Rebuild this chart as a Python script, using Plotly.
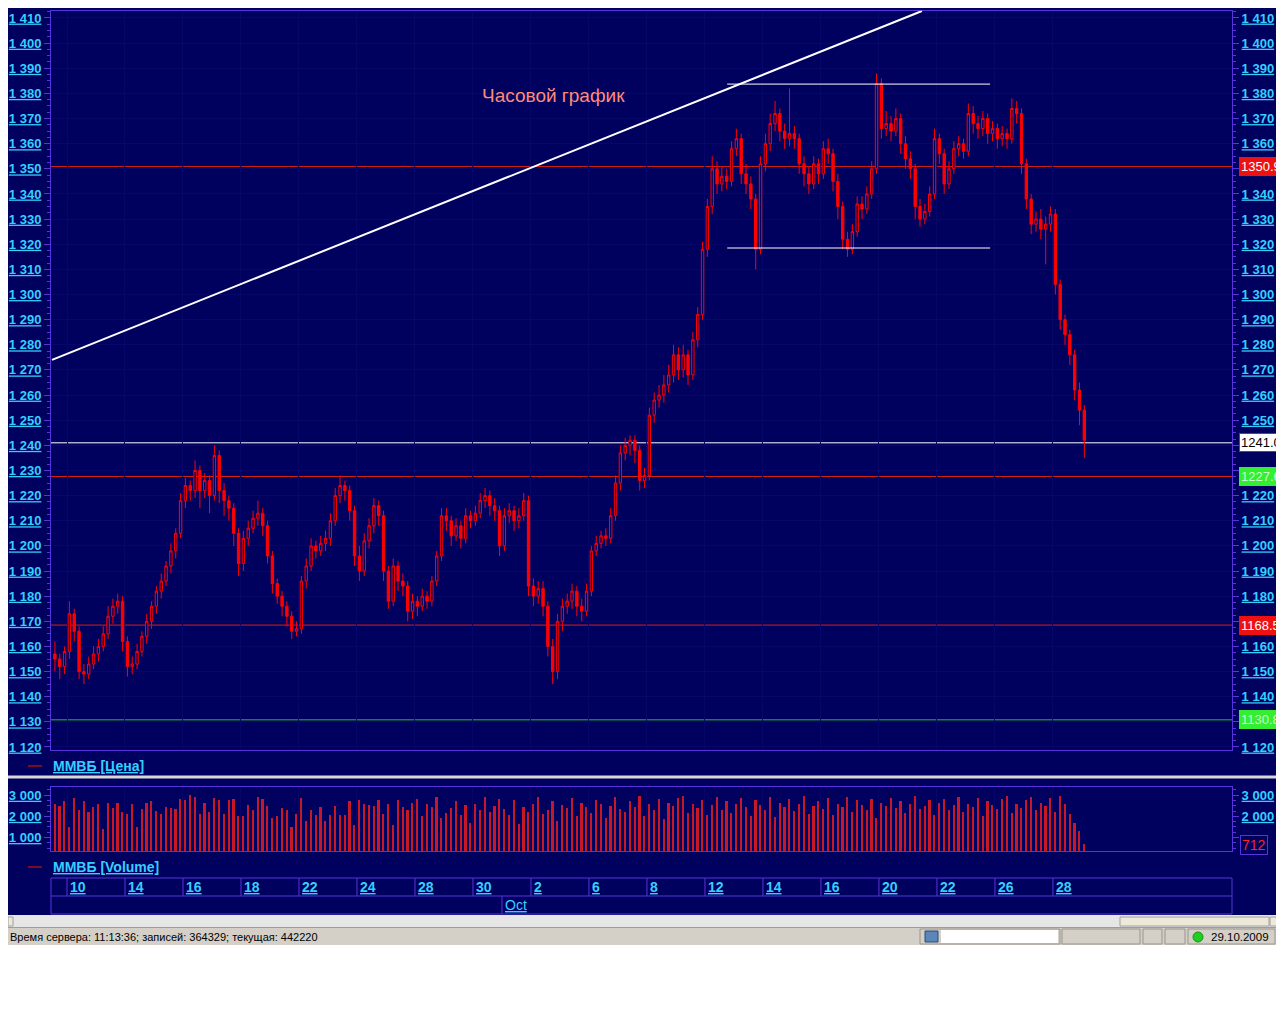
import plotly.graph_objects as go

# ---------------- data (hourly-ish candles, 6 per trading day) ----------------
OPEN = [
    1157, 1155, 1152, 1158, 1173, 1166, 1150, 1149, 1153, 1157, 1160, 1165, 1172, 1176,
    1178, 1162, 1152, 1153, 1158, 1164, 1170, 1176, 1182, 1186, 1192, 1198, 1205, 1218,
    1224, 1222, 1230, 1222, 1226, 1220, 1236, 1222, 1218, 1215, 1205, 1193, 1203, 1207,
    1211, 1213, 1208, 1196, 1185, 1180, 1176, 1172, 1166, 1167, 1186, 1192, 1200, 1198,
    1201, 1203, 1210, 1220, 1224, 1222, 1214, 1196, 1190, 1202, 1208, 1216, 1212, 1190,
    1178, 1192, 1186, 1184, 1174, 1178, 1176, 1180, 1178, 1186, 1196, 1212, 1210, 1204,
    1208, 1203, 1212, 1210, 1213, 1218, 1220, 1216, 1214, 1200, 1212, 1214, 1210, 1212,
    1218, 1184, 1180, 1183, 1176, 1160, 1150, 1170, 1176, 1178, 1182, 1176, 1174, 1182,
    1198, 1201, 1204, 1203, 1212, 1225, 1237, 1240, 1242, 1238, 1226, 1228, 1252, 1258,
    1260, 1264, 1268, 1276, 1270, 1276, 1268, 1282, 1292, 1318, 1335, 1350, 1344, 1347,
    1345, 1358, 1362, 1348, 1344, 1338, 1318, 1352, 1360, 1368, 1372, 1365, 1362, 1364,
    1362, 1352, 1348, 1344, 1352, 1348, 1358, 1356, 1345, 1335, 1322, 1318, 1325, 1336,
    1334, 1340, 1350, 1384, 1366, 1368, 1365, 1370, 1360, 1354, 1350, 1335, 1330, 1333,
    1340, 1362, 1356, 1344, 1350, 1358, 1360, 1357, 1372, 1368, 1366, 1370, 1364, 1366,
    1362, 1364, 1362, 1374, 1372, 1352, 1338, 1328, 1330, 1326, 1328, 1332, 1304, 1290,
    1284, 1276, 1262, 1254,
]
HIGH = [
    1162, 1157, 1160, 1178, 1175, 1168, 1153, 1156, 1160, 1163, 1168, 1176, 1179, 1181,
    1180, 1164, 1156, 1161, 1166, 1173, 1178, 1184, 1189, 1194, 1201, 1207, 1221, 1227,
    1226, 1234, 1232, 1229, 1228, 1240, 1238, 1225, 1220, 1217, 1207, 1206, 1210, 1214,
    1218, 1215, 1210, 1198, 1187, 1182, 1178, 1174, 1170, 1188, 1195, 1203, 1202, 1204,
    1206, 1213, 1223, 1228, 1226, 1224, 1216, 1200, 1205, 1211, 1219, 1218, 1214, 1192,
    1195, 1194, 1189, 1186, 1181, 1180, 1183, 1182, 1188, 1198, 1215, 1215, 1212, 1211,
    1210, 1215, 1214, 1216, 1221, 1223, 1222, 1219, 1216, 1215, 1217, 1216, 1215, 1221,
    1220, 1187, 1186, 1186, 1178, 1163, 1173, 1179, 1181, 1185, 1184, 1179, 1185, 1200,
    1204, 1206, 1207, 1215, 1228, 1240, 1243, 1244, 1244, 1240, 1231, 1255, 1261, 1264,
    1268, 1272, 1280, 1279, 1280, 1278, 1285, 1295, 1321, 1338, 1355, 1353, 1351, 1350,
    1361, 1366, 1364, 1352, 1347, 1340, 1355, 1364, 1372, 1377, 1374, 1368, 1382, 1367,
    1364, 1355, 1351, 1355, 1354, 1361, 1362, 1358, 1348, 1337, 1325, 1328, 1339, 1339,
    1343, 1353, 1388, 1386, 1373, 1371, 1374, 1372, 1363, 1357, 1352, 1338, 1336, 1343,
    1366, 1364, 1358, 1353, 1361, 1363, 1362, 1376, 1375, 1371, 1373, 1372, 1369, 1368,
    1367, 1366, 1378, 1377, 1374, 1354, 1340, 1333, 1334, 1331, 1335, 1334, 1306, 1292,
    1286, 1278, 1265, 1256,
]
LOW = [
    1150, 1147, 1149, 1155, 1162, 1147, 1145, 1147, 1151, 1154, 1158, 1163, 1169, 1173,
    1158, 1148, 1149, 1151, 1156, 1161, 1167, 1173, 1179, 1184, 1189, 1195, 1203, 1215,
    1218, 1219, 1215, 1219, 1213, 1218, 1217, 1212, 1210, 1200, 1188, 1190, 1200, 1205,
    1208, 1204, 1193, 1181, 1177, 1172, 1168, 1163, 1164, 1165, 1183, 1190, 1195, 1196,
    1198, 1200, 1208, 1217, 1218, 1210, 1192, 1186, 1188, 1199, 1205, 1208, 1186, 1175,
    1176, 1182, 1180, 1170, 1171, 1172, 1174, 1175, 1176, 1184, 1194, 1206, 1200, 1202,
    1199, 1201, 1207, 1208, 1211, 1215, 1212, 1210, 1196, 1198, 1209, 1206, 1207, 1210,
    1180, 1176, 1177, 1172, 1156, 1145, 1147, 1166, 1173, 1175, 1172, 1170, 1172, 1180,
    1196, 1199, 1200, 1201, 1210, 1222, 1234, 1236, 1233, 1222, 1223, 1226, 1249, 1255,
    1257, 1261, 1265, 1266, 1267, 1264, 1266, 1279, 1290, 1315, 1332, 1340, 1341, 1342,
    1343, 1355, 1344, 1340, 1334, 1310, 1316, 1349, 1357, 1365, 1361, 1358, 1359, 1358,
    1348, 1343, 1340, 1342, 1344, 1346, 1352, 1341, 1330, 1318, 1315, 1316, 1323, 1330,
    1332, 1338, 1348, 1362, 1363, 1361, 1363, 1356, 1350, 1346, 1330, 1327, 1328, 1331,
    1338, 1352, 1340, 1342, 1348, 1355, 1354, 1355, 1364, 1362, 1363, 1360, 1361, 1358,
    1359, 1358, 1360, 1368, 1348, 1334, 1324, 1325, 1322, 1312, 1325, 1300, 1286, 1280,
    1272, 1258, 1248, 1235,
]
CLOSE = [
    1155, 1152, 1158, 1173, 1166, 1150, 1149, 1153, 1157, 1160, 1165, 1172, 1176, 1178,
    1162, 1152, 1153, 1158, 1164, 1170, 1176, 1182, 1186, 1192, 1198, 1205, 1218, 1224,
    1222, 1230, 1222, 1226, 1220, 1236, 1222, 1218, 1215, 1205, 1193, 1203, 1207, 1211,
    1213, 1208, 1196, 1185, 1180, 1176, 1172, 1166, 1167, 1186, 1192, 1200, 1198, 1201,
    1203, 1210, 1220, 1224, 1222, 1214, 1196, 1190, 1202, 1208, 1216, 1212, 1190, 1178,
    1192, 1186, 1184, 1174, 1178, 1176, 1180, 1178, 1186, 1196, 1212, 1210, 1204, 1208,
    1203, 1212, 1210, 1213, 1218, 1220, 1216, 1214, 1200, 1212, 1214, 1210, 1212, 1218,
    1184, 1180, 1183, 1176, 1160, 1150, 1170, 1176, 1178, 1182, 1176, 1174, 1182, 1198,
    1201, 1204, 1203, 1212, 1225, 1237, 1240, 1242, 1238, 1226, 1228, 1252, 1258, 1260,
    1264, 1268, 1276, 1270, 1276, 1268, 1282, 1292, 1318, 1335, 1350, 1344, 1347, 1345,
    1358, 1362, 1348, 1344, 1338, 1318, 1352, 1360, 1368, 1372, 1365, 1362, 1364, 1362,
    1352, 1348, 1344, 1352, 1348, 1358, 1356, 1345, 1335, 1322, 1318, 1325, 1336, 1334,
    1340, 1350, 1384, 1366, 1368, 1365, 1370, 1360, 1354, 1350, 1335, 1330, 1333, 1340,
    1362, 1356, 1344, 1350, 1358, 1360, 1357, 1372, 1368, 1366, 1370, 1364, 1366, 1362,
    1364, 1362, 1374, 1372, 1352, 1338, 1328, 1330, 1326, 1328, 1332, 1304, 1290, 1284,
    1276, 1262, 1254, 1242,
]
VOLUME = [
    2600, 2500, 2700, 1500, 2850, 2300, 2700, 2200, 2450, 2600, 1400, 2650, 2400, 2650,
    2200, 2100, 2600, 1500, 2350, 2650, 2700, 2250, 2100, 2450, 2400, 2350, 2800, 2750,
    3000, 2900, 2100, 2650, 2200, 2850, 2750, 2100, 2750, 2800, 2000, 2000, 2550, 2300,
    2900, 2800, 2500, 1900, 2000, 2400, 2300, 1500, 2100, 2850, 1800, 2300, 2050, 2450,
    1800, 2050, 2500, 2050, 2050, 2700, 1600, 2750, 2600, 2550, 2500, 2750, 2100, 2600,
    1600, 2750, 2450, 2300, 2650, 2800, 2000, 2600, 2450, 2900, 1900, 2150, 2400, 2700,
    2050, 2550, 1700, 2600, 2300, 2900, 2200, 2500, 2800, 2350, 2050, 2750, 1650, 2450,
    2200, 2600, 2900, 2100, 2300, 2700, 1800, 2550, 2400, 2850, 2000, 2650, 2450, 2150,
    2750, 2600, 1900, 2500, 2900, 2350, 2200, 2700, 2450, 2950, 2000, 2600, 2300, 2800,
    1850, 2650, 2500, 2850, 2950, 2150, 2600, 2400, 2750, 2050, 2550, 2900, 2300, 2700,
    2150, 2600, 2850, 2450, 2000, 2750, 2550, 2300, 2900, 1950, 2650, 2450, 2800, 2250,
    2600, 2950, 2100, 2500, 2700, 2350, 2850, 2050, 2600, 2450, 2900, 2200, 2750, 2550,
    2300, 2800, 1900, 2650, 2500, 2850, 2400, 2700, 2150, 2600, 2950, 2350, 2500, 2750,
    2050, 2650, 2800, 2300, 2550, 2900, 2200, 2600, 2450, 2850, 2000, 2700, 2550, 2350,
    2800, 2950, 2150, 2600, 2400, 2750, 2900, 2300, 2650, 2500, 2850, 2200, 2950, 2600,
    2100, 1700, 1300, 712,
]
CANDLES_PER_DAY = 6
FIRST_SESSION_START = 2.5          # candle position where the 10 Sep session begins
DAY_LABELS = ["10", "14", "16", "18", "22", "24", "28", "30", "2", "6", "8",
              "12", "14", "16", "20", "22", "26", "28"]
DAY_OFFSETS = [0, 2, 4, 6, 8, 10, 12, 14, 16, 18, 20, 22, 24, 26, 28, 30, 32, 34]
MONTH_LABEL = "Oct"
MONTH_OFFSET = 15
PRICE_RANGE = [1118.8, 1412.9]
PRICE_TICKS = list(range(1120, 1411, 10))
RIGHT_HIDDEN_TICKS = [1130, 1170, 1230, 1240, 1350]   # covered by the value boxes
VOLUME_RANGE = [360, 3385]
VOLUME_TICKS = [1000, 2000, 3000]
RIGHT_HIDDEN_VOL_TICKS = [1000]
LEVELS = [1350.9, 1241.0, 1227.6, 1168.5, 1130.8]
LEVEL_LINE_COLORS = ["#d82010", "#ffffff", "#d82010", "#d82010", "#22c022"]
LEVEL_BOX_BG = ["#ee1111", "#ffffff", "#33ee33", "#ee1111", "#33ee33"]
LEVEL_BOX_FG = ["#ffffff", "#000000", "#c8ffc8", "#ffffff", "#c8ffc8"]
TREND_X = [-0.6, 179.4]
TREND_Y = [1274.0, 1412.8]
CHANNEL_X = [139.1, 193.5]
CHANNEL_LEVELS = [1383.7, 1318.5]
TITLE_TEXT = "Часовой график"
STATUS_TEXT = "Время сервера: 11:13:36; записей: 364329; текущая: 442220"
STATUS_DATE = "29.10.2009"

# ---------------- styling / geometry ----------------
BG = "#00005f"
PURPLE = "#5a32dc"
CYAN = "#35cfff"
RED = "#ff0000"
GRID = "#07076a"
W, H, OFF = 1276, 1008, 8


def fx(X):
    return (X - OFF) / W


def fy(Y):
    return 1 - (Y - OFF) / H


def fmt(v):
    return f"{v:,}".replace(",", " ")


xs = list(range(len(CLOSE)))
day_pos = [FIRST_SESSION_START + CANDLES_PER_DAY * d for d in DAY_OFFSETS]
month_pos = FIRST_SESSION_START + CANDLES_PER_DAY * MONTH_OFFSET
XR = [-0.81, 243.55]

tick_font = dict(family="Liberation Sans", size=13, color=CYAN, weight="bold",
                 lineposition="under")
label_font = dict(family="Liberation Sans", size=14, color=CYAN, weight="bold",
                  lineposition="under")

fig = go.Figure()
fig.add_trace(go.Candlestick(
    x=xs, open=OPEN, high=HIGH, low=LOW, close=CLOSE,
    increasing=dict(line=dict(color=RED, width=1), fillcolor=BG),
    decreasing=dict(line=dict(color=RED, width=1), fillcolor=RED),
    whiskerwidth=0, xaxis="x", yaxis="y", showlegend=False, hoverinfo="skip"))
fig.add_trace(go.Scatter(x=[None], y=[None], xaxis="x", yaxis="y2", showlegend=False))
fig.add_trace(go.Bar(
    x=xs, y=VOLUME, width=0.35, marker=dict(color="#c81828", line=dict(width=0)),
    xaxis="x2", yaxis="y3", showlegend=False, hoverinfo="skip"))
fig.add_trace(go.Scatter(x=[None], y=[None], xaxis="x2", yaxis="y4", showlegend=False))

frame = dict(showline=True, linecolor=PURPLE, linewidth=1, mirror=True, zeroline=False,
             automargin=False)
common_ticks = dict(ticks="outside", ticklen=6, tickcolor=PURPLE, tickfont=tick_font,
                    automargin=False)


def price_axis(hidden):
    return dict(range=PRICE_RANGE, tickmode="array", tickvals=PRICE_TICKS,
                ticktext=["" if v in hidden else fmt(v) for v in PRICE_TICKS],
                minor=dict(ticks="outside", ticklen=3, tickcolor=PURPLE, dtick=2.5,
                           tick0=1120, showgrid=False),
                **common_ticks)


def vol_axis(hidden):
    return dict(range=VOLUME_RANGE, tickmode="array", tickvals=VOLUME_TICKS,
                ticktext=["" if v in hidden else fmt(v) for v in VOLUME_TICKS],
                minor=dict(ticks="outside", ticklen=3, tickcolor=PURPLE, dtick=250,
                           tick0=0, showgrid=False),
                **common_ticks)


fig.update_layout(
    template="none",
    width=W, height=H, margin=dict(l=0, r=0, t=0, b=0, pad=0), autosize=False,
    paper_bgcolor=BG, plot_bgcolor=BG, showlegend=False, bargap=0,
    xaxis=dict(domain=[fx(51), fx(1232)], range=XR, anchor="y",
               tickmode="array", tickvals=day_pos, showticklabels=False, ticks="",
               showgrid=True, gridcolor=GRID, rangeslider=dict(visible=False), **frame),
    yaxis=dict(domain=[fy(750), fy(10.7)], anchor="x", side="left",
               showgrid=True, gridcolor=GRID, showline=True, linecolor=PURPLE,
               mirror=True, zeroline=False, **price_axis([])),
    yaxis2=dict(overlaying="y", anchor="x", side="right", showgrid=False,
                showline=False, zeroline=False, **price_axis(RIGHT_HIDDEN_TICKS)),
    xaxis2=dict(domain=[fx(51), fx(1232)], range=XR, anchor="y3", matches="x",
                tickmode="array", tickvals=day_pos, showticklabels=False, ticks="",
                showgrid=True, gridcolor=GRID, **frame),
    yaxis3=dict(domain=[fy(851), fy(787)], anchor="x2", side="left",
                showgrid=False, showline=True, linecolor=PURPLE, mirror=True,
                zeroline=False, **vol_axis([])),
    yaxis4=dict(overlaying="y3", anchor="x2", side="right", showgrid=False,
                showline=False, zeroline=False, **vol_axis(RIGHT_HIDDEN_VOL_TICKS)),
)

shapes = []
annotations = []

# horizontal levels + right-hand value boxes
for lvl, lc, bgc, fgc in zip(LEVELS, LEVEL_LINE_COLORS, LEVEL_BOX_BG, LEVEL_BOX_FG):
    shapes.append(dict(type="line", xref="x domain", x0=0, x1=1, yref="y", y0=lvl, y1=lvl,
                       line=dict(color=lc, width=1), layer="below"))
    annotations.append(dict(xref="paper", x=fx(1239), xanchor="left", yref="y", y=lvl,
                            yanchor="middle", text=f"{lvl:.1f}", showarrow=False,
                            bgcolor=bgc, borderpad=1,
                            bordercolor=PURPLE if bgc == "#ffffff" else bgc, borderwidth=1,
                            font=dict(family="Liberation Sans", size=13, color=fgc)))

# trend line and channel
shapes.append(dict(type="line", xref="x", yref="y", x0=TREND_X[0], x1=TREND_X[1],
                   y0=TREND_Y[0], y1=TREND_Y[1], line=dict(color="#ffffff", width=2)))
for lvl in CHANNEL_LEVELS:
    shapes.append(dict(type="line", xref="x", yref="y", x0=CHANNEL_X[0], x1=CHANNEL_X[1],
                       y0=lvl, y1=lvl, line=dict(color="#ffffff", width=1)))

annotations.append(dict(xref="paper", yref="paper", x=fx(553), y=fy(95), text=TITLE_TEXT,
                        showarrow=False, xanchor="center", yanchor="middle",
                        font=dict(family="Liberation Sans", size=19, color="#ff8a7a")))

# volume last-value box
annotations.append(dict(xref="paper", x=fx(1240), xanchor="left", yref="paper", y=fy(845),
                        yanchor="middle", text=str(VOLUME[-1]), showarrow=False,
                        bgcolor=BG, bordercolor=PURPLE, borderwidth=1, borderpad=1,
                        font=dict(family="Liberation Sans", size=14, color="#ff2020")))

# legend rows
for ytxt, label in [(766, "ММВБ [Цена]"), (867, "ММВБ [Volume]")]:
    shapes.append(dict(type="line", xref="paper", yref="paper", x0=fx(28), x1=fx(42),
                       y0=fy(ytxt), y1=fy(ytxt), line=dict(color="#a01010", width=1.5)))
    annotations.append(dict(xref="paper", yref="paper", x=fx(51), y=fy(ytxt),
                            xanchor="left", yanchor="middle", text=label, showarrow=False,
                            font=label_font))

# separator between price and volume panes
shapes.append(dict(type="rect", xref="paper", yref="paper", x0=fx(0), x1=fx(1284),
                   y0=fy(778.5), y1=fy(775.5), fillcolor="#d8d8d8", line=dict(width=0)))

# date strip
shapes.append(dict(type="rect", xref="paper", yref="paper", x0=fx(51), x1=fx(1232),
                   y0=fy(914), y1=fy(878), line=dict(color=PURPLE, width=1)))
shapes.append(dict(type="line", xref="paper", yref="paper", x0=fx(51), x1=fx(1232),
                   y0=fy(896), y1=fy(896), line=dict(color=PURPLE, width=1)))
for p, lab in zip(day_pos, DAY_LABELS):
    shapes.append(dict(type="line", xref="x", yref="paper", x0=p, x1=p,
                       y0=fy(896), y1=fy(878), line=dict(color=PURPLE, width=1)))
    annotations.append(dict(xref="x", yref="paper", x=p, y=fy(887), xanchor="left",
                            yanchor="middle", xshift=1, text=lab, showarrow=False,
                            font=label_font))
shapes.append(dict(type="line", xref="x", yref="paper", x0=month_pos, x1=month_pos,
                   y0=fy(914), y1=fy(896), line=dict(color=PURPLE, width=1)))
annotations.append(dict(xref="x", yref="paper", x=month_pos, y=fy(905), xanchor="left",
                        yanchor="middle", xshift=1, text=MONTH_LABEL, showarrow=False,
                        font=dict(family="Liberation Sans", size=14, color=CYAN,
                                  lineposition="under")))

# scroll row, status bar and white page bottom
shapes.append(dict(type="rect", xref="paper", yref="paper", x0=fx(0), x1=fx(1284),
                   y0=fy(927), y1=fy(915), fillcolor="#e6e6e6", line=dict(width=0)))
shapes.append(dict(type="rect", xref="paper", yref="paper", x0=fx(1120), x1=fx(1269),
                   y0=fy(926), y1=fy(917), fillcolor="#ece9d8",
                   line=dict(color="#a0a0a0", width=1)))
shapes.append(dict(type="rect", xref="paper", yref="paper", x0=fx(1270), x1=fx(1280),
                   y0=fy(926), y1=fy(917), fillcolor="#ece9d8",
                   line=dict(color="#a0a0a0", width=1)))
shapes.append(dict(type="rect", xref="paper", yref="paper", x0=fx(8), x1=fx(13),
                   y0=fy(926), y1=fy(917), fillcolor="#ece9d8",
                   line=dict(color="#a0a0a0", width=1)))
shapes.append(dict(type="rect", xref="paper", yref="paper", x0=fx(0), x1=fx(1284),
                   y0=fy(945), y1=fy(927), fillcolor="#d4d0c8",
                   line=dict(width=0)))
shapes.append(dict(type="line", xref="paper", yref="paper", x0=fx(0), x1=fx(1284),
                   y0=fy(927.5), y1=fy(927.5), line=dict(color="#a09c94", width=1)))
shapes.append(dict(type="rect", xref="paper", yref="paper", x0=fx(0), x1=fx(1284),
                   y0=fy(1020), y1=fy(945), fillcolor="#ffffff", line=dict(width=0)))
for x0, x1 in [(920, 1060), (1062, 1140), (1143, 1162), (1165, 1185), (1188, 1275)]:
    shapes.append(dict(type="rect", xref="paper", yref="paper", x0=fx(x0), x1=fx(x1),
                       y0=fy(944), y1=fy(929), line=dict(color="#9a968e", width=1)))
shapes.append(dict(type="rect", xref="paper", yref="paper", x0=fx(941), x1=fx(1058),
                   y0=fy(943), y1=fy(930), fillcolor="#ffffff", line=dict(width=0)))
shapes.append(dict(type="rect", xref="paper", yref="paper", x0=fx(925), x1=fx(938),
                   y0=fy(942), y1=fy(931), fillcolor="#5a86b8",
                   line=dict(color="#2a4a78", width=1)))
shapes.append(dict(type="circle", xref="paper", yref="paper", x0=fx(1193), x1=fx(1203),
                   y0=fy(942), y1=fy(932), fillcolor="#22cc22",
                   line=dict(color="#119911", width=1)))
annotations.append(dict(xref="paper", yref="paper", x=fx(8), y=fy(937), xanchor="left",
                        yanchor="middle", text=STATUS_TEXT, showarrow=False,
                        font=dict(family="Liberation Sans", size=11, color="#000000")))
annotations.append(dict(xref="paper", yref="paper", x=fx(1209), y=fy(937), xanchor="left",
                        yanchor="middle", text=STATUS_DATE, showarrow=False,
                        font=dict(family="Liberation Sans", size=11.5, color="#000000")))

fig.update_layout(shapes=shapes, annotations=annotations)
fig.write_html("out.html", config={"displayModeBar": False})
